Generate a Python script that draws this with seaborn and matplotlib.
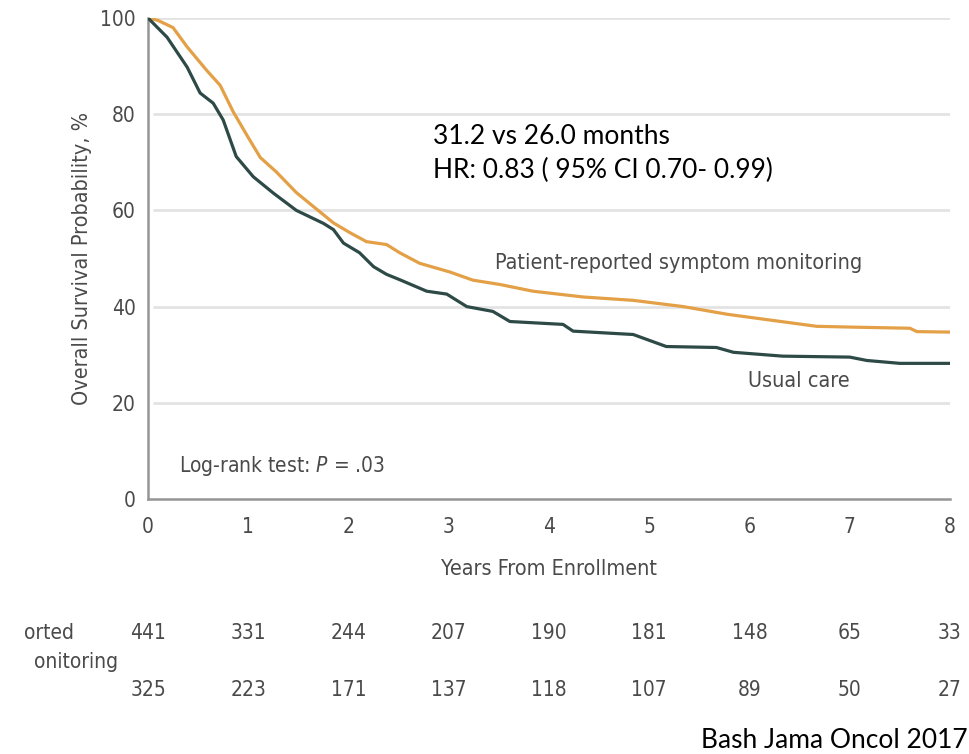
import matplotlib
matplotlib.use("Agg")
import matplotlib.pyplot as plt
import matplotlib.transforms as mtransforms
from matplotlib import font_manager as fm
from matplotlib.font_manager import FontProperties
import seaborn as sns
import pandas as pd

# ---------------- data ----------------
pro_years = [0, 0.1, 0.25, 0.39, 0.59, 0.72, 0.85, 0.99, 1.12, 1.28, 1.48, 1.65, 1.85,
             2.02, 2.18, 2.38, 2.51, 2.71, 3.01, 3.24, 3.51, 3.84, 4.34, 4.84, 5.34,
             5.78, 6.17, 6.67, 7.1, 7.6, 7.67, 8.0]
pro_surv = [100, 99.5, 98, 94, 89, 86, 80.5, 75.5, 71, 68, 63.7, 60.8, 57.4,
            55.3, 53.5, 52.9, 51.2, 49, 47.2, 45.5, 44.6, 43.2, 42, 41.3, 40,
            38.4, 37.3, 35.9, 35.7, 35.5, 34.8, 34.7]

uc_years = [0, 0.19, 0.39, 0.52, 0.65, 0.75, 0.88, 1.05, 1.25, 1.48, 1.75, 1.85, 1.95,
            2.11, 2.25, 2.38, 2.51, 2.78, 2.98, 3.18, 3.44, 3.61, 4.14, 4.24, 4.84,
            5.17, 5.67, 5.84, 6.33, 7.0, 7.17, 7.5, 8.0]
uc_surv = [100, 96, 89.8, 84.4, 82.3, 78.8, 71.2, 67, 63.6, 60, 57.3, 56, 53.2,
           51.2, 48.3, 46.7, 45.6, 43.2, 42.6, 40, 39, 36.9, 36.3, 34.9, 34.2,
           31.7, 31.5, 30.5, 29.7, 29.5, 28.8, 28.2, 28.2]

series_names = ["Patient-reported symptom monitoring", "Usual care"]
risk_years = [0, 1, 2, 3, 4, 5, 6, 7, 8]
risk_pro = [441, 331, 244, 207, 190, 181, 148, 65, 33]
risk_uc = [325, 223, 171, 137, 118, 107, 89, 50, 27]
risk_row_labels = ["orted", "onitoring"]   # visible (cropped) parts of the row label
x_ticks = [0, 1, 2, 3, 4, 5, 6, 7, 8]
y_ticks = [0, 20, 40, 60, 80, 100]

# ---------------- style ----------------
sns.set_theme(style="white")

cond = None
for f in fm.fontManager.ttflist:
    fn = f.fname
    if f.name == "DejaVu Sans" and "Condensed" in fn and "Bold" not in fn and "Oblique" not in fn:
        cond = fn
        break
if cond is None:
    for f in fm.fontManager.ttflist:
        if f.name == "Liberation Sans Narrow" and f.style == "normal" and f.weight in (400, "normal", "regular"):
            cond = f.fname
            break

if cond is not None:
    fm.fontManager.addfont(cond)
    cprop = FontProperties(fname=cond)
    cname = cprop.get_name()
    plt.rcParams["font.family"] = [cname, "DejaVu Sans"]
    plt.rcParams["font.stretch"] = "condensed"
else:
    cprop = FontProperties(family="Roboto")
    plt.rcParams["font.family"] = ["Roboto", "DejaVu Sans"]

gray_txt = "#4a4a4a"
orange = "#E3A047"
dark = "#2D4A47"
axis_gray = "#959595"

df = pd.concat([
    pd.DataFrame({"years": pro_years, "surv": pro_surv, "group": series_names[0]}),
    pd.DataFrame({"years": uc_years, "surv": uc_surv, "group": series_names[1]}),
])

fig = plt.figure(figsize=(9.7, 7.54), dpi=100)
ax = fig.add_axes([148 / 970, 1 - 499 / 754, (950 - 148) / 970, (499 - 18) / 754])

for yv in y_ticks[1:]:
    ax.axhline(yv, xmin=0.008, color="#e3e3e3", lw=2.0, zorder=0)

sns.lineplot(data=df, x="years", y="surv", hue="group",
             palette={series_names[0]: orange, series_names[1]: dark},
             hue_order=series_names, lw=2.3, legend=False, ax=ax,
             estimator=None, sort=False, zorder=3)

def cp(size):
    p = cprop.copy()
    p.set_size(size)
    return p

ax.set_xlim(0, 8)
ax.set_ylim(0, 100)
ax.set_xticks(x_ticks)
ax.set_yticks(y_ticks)
ax.set_xticklabels([str(v) for v in x_ticks], fontproperties=cp(15), color=gray_txt)
ax.set_yticklabels([str(v) for v in y_ticks], fontproperties=cp(15), color=gray_txt)
for s in ["top", "right"]:
    ax.spines[s].set_visible(False)
for s in ["left", "bottom"]:
    ax.spines[s].set_color(axis_gray)
    ax.spines[s].set_linewidth(1.8)
ax.tick_params(axis="both", direction="out", length=7, width=1.4, color=axis_gray)
ax.tick_params(axis="x", pad=6)
ax.tick_params(axis="y", pad=2)
ax.grid(False)
ax.set_xlabel("Years From Enrollment", fontproperties=cp(15.5), color=gray_txt, labelpad=16)
ax.set_ylabel("Overall Survival Probability, %", fontproperties=cp(15.5), color=gray_txt,
              labelpad=6)

ax.text(3.46, 49, series_names[0], fontproperties=cp(15.5), color=gray_txt,
        va="center", ha="left")
ax.text(5.99, 24.6, series_names[1], fontproperties=cp(15.5), color=gray_txt,
        va="center", ha="left")
ax.text(0.31, 6.9, "Log-rank test: $\\it{P}$ = .03", fontproperties=cp(15),
        color=gray_txt, va="center", ha="left")

calib = ["Lato", "DejaVu Sans"]
fig.text(433 / 970, 1 - 137 / 754, "31.2 vs 26.0 months", family=calib, fontsize=19,
         color="black", va="center", ha="left")
fig.text(433 / 970, 1 - 170 / 754, "HR: 0.83 ( 95% CI 0.70- 0.99)", family=calib,
         fontsize=19, color="black", va="center", ha="left")
fig.text(968 / 970, 1 - 741 / 754, "Bash Jama Oncol 2017", family=calib, fontsize=19,
         color="black", va="center", ha="right")

# number at risk
tr = mtransforms.blended_transform_factory(ax.transData, fig.transFigure)
for xv, n1, n2 in zip(risk_years, risk_pro, risk_uc):
    ax.text(xv, 1 - 633 / 754, str(n1), transform=tr, fontproperties=cp(15),
            color=gray_txt, ha="center", va="center", clip_on=False)
    ax.text(xv, 1 - 690 / 754, str(n2), transform=tr, fontproperties=cp(15),
            color=gray_txt, ha="center", va="center", clip_on=False)
fig.text(74 / 970, 1 - 633 / 754, risk_row_labels[0], fontproperties=cp(15),
         color=gray_txt, ha="right", va="center")
fig.text(118 / 970, 1 - 662 / 754, risk_row_labels[1], fontproperties=cp(15),
         color=gray_txt, ha="right", va="center")

fig.savefig("out.png", dpi=100, facecolor="white")
